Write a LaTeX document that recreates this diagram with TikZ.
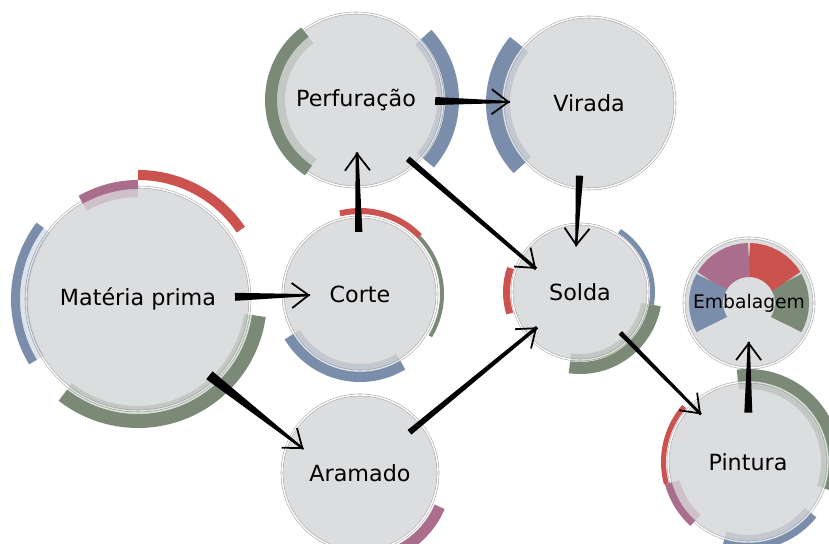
\documentclass[tikz,border=0pt]{standalone}
\usepackage{fontspec}
\setmainfont{DejaVu Sans}
\usetikzlibrary{calc,arrows.meta}
\definecolor{disc}{RGB}{220,221,223}
\definecolor{arcred}{RGB}{204,82,80}
\definecolor{arcrose}{RGB}{170,110,140}
\definecolor{arcblue}{RGB}{122,141,170}
\definecolor{arcgreen}{RGB}{122,138,118}

% coloured band round a stage: [shade], node, colour, from, to, outer radius, width
\newcommand\band[7][.25]{%
  \pgfmathsetmacro\rmid{#6-#7/2}%
  \pgfmathsetmacro\rin{#6-#7-4}%
  \draw[#3, line width=#7*0.3mm] ([shift={(#4:\rmid)}]#2.center) arc[start angle=#4, end angle=#5, radius=\rmid];
  \draw[#3, opacity=#1, line width=2.4mm] ([shift={(#4:\rin)}]#2.center) arc[start angle=#4, end angle=#5, radius=\rin];
}

% tapered connector: [side shift], from, to, fractions along the line, half widths
\newcommand\flow[7][0]{%
  \coordinate (s) at ($(#2.center)!#4!(#3.center)!#1!-90:(#3.center)$);
  \coordinate (e) at ($(#2.center)!#5!(#3.center)!#1!-90:(#3.center)$);
  \fill ($(s)!#6!90:(e)$) -- ($(e)!#7!-90:(s)$) -- ($(e)!#7!90:(s)$) -- ($(s)!#6!-90:(e)$) -- cycle;
  \draw[->, line width=1.5pt] ($(s)!.6!(e)$) -- (e);
}

\begin{document}
\begin{tikzpicture}[x=.3mm, y=.3mm, >={Straight Barb[length=5mm,width=7.5mm]},
    stage/.style={circle, minimum size=#1*0.3mm, inner sep=0pt, fill=disc,
      draw=black!35, double=white, double distance=1.2pt, line width=.5pt,
      font=\fontsize{19}{22}\selectfont}]
\useasboundingbox (0,0) rectangle (829,543);

% stages
\node[stage=224] (mp) at (138,244) {Matéria prima};
\node[stage=154] (corte) at (360,249) {Corte};
\node[stage=174] (perf) at (356,443) {Perfuração};
\node[stage=172] (virada) at (589,440) {Virada};
\node[stage=136] (solda) at (580,251) {Solda};
\node[stage=156] (aramado) at (360,70) {Aramado};
\node[stage=160] (pintura) at (748,81) {Pintura};
\node[stage=130, font=\fontsize{16}{19}\selectfont, path picture={
    \foreach \c/\a in {arcgreen/-30, arcred/30, arcrose/90, arcblue/150}
      \draw[\c, line width=10.2mm] ([shift={(\a:43)}]path picture bounding box.center)
        arc[start angle=\a, end angle=\a+60, radius=43];
  }] (emb) at (749,240) {Embalagem};

% bands
\band[0]{mp}{arcred}{34}{90}{129}{10}
\band{mp}{arcrose}{90}{120}{119}{9}
\band{mp}{arcblue}{143}{211}{127}{9}
\band{mp}{arcgreen}{232}{352}{129}{14}
\band[0]{corte}{arcred}{44}{104}{86}{6}
\band[0]{corte}{arcgreen}{-31}{44}{84}{4}
\band{corte}{arcblue}{211}{301}{88}{10}
\band{perf}{arcgreen}{127}{236}{91}{12}
\band{perf}{arcblue}{-41}{43}{103}{14}
\band{virada}{arcblue}{140}{223}{103}{16}
\band[0]{solda}{arcblue}{-10}{57}{75}{5}
\band{solda}{arcgreen}{262}{350}{82}{12}
\band[0]{solda}{arcred}{161}{197}{77}{7}
\band[0]{aramado}{arcrose}{287}{337}{92}{11}
\band{pintura}{arcgreen}{-19}{97}{93}{12}
\band[0]{pintura}{arcred}{139}{195}{87}{5}
\band{pintura}{arcrose}{195}{228}{86}{7}
\band{pintura}{arcblue}{253}{321}{88}{7}

% connectors
\flow{mp}{corte}{.437}{.775}{1.2mm}{.3mm}
\flow{corte}{perf}{.32}{.73}{1.1mm}{.4mm}
\flow{perf}{virada}{.34}{.66}{1.2mm}{.3mm}
\flow[3.3mm]{perf}{solda}{.263}{.836}{.9mm}{.5mm}
\flow[1.8mm]{virada}{solda}{.386}{.76}{1.1mm}{.3mm}
\flow[4.8mm]{mp}{aramado}{.366}{.79}{1.5mm}{.3mm}
\flow{aramado}{solda}{.225}{.805}{.9mm}{.5mm}
\flow{solda}{pintura}{.24}{.72}{.7mm}{.4mm}
\flow{pintura}{emb}{.31}{.755}{1.2mm}{.3mm}
\end{tikzpicture}
\end{document}
